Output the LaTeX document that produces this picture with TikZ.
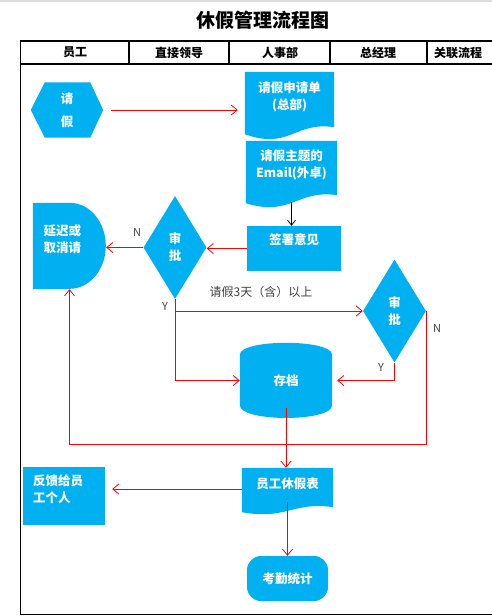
\documentclass[tikz,border=0pt]{standalone}
\usepackage{fontspec}
\setmainfont{Noto Sans CJK SC}
\usetikzlibrary{shapes.geometric,arrows.meta,backgrounds}
\definecolor{boxblue}{RGB}{0,176,240}
\definecolor{labelgray}{RGB}{64,64,64}
\tikzset{
  boxfill/.style={fill=boxblue},
  boxtext/.style={text=white, font=\fontsize{12.5}{17}\selectfont\bfseries, align=center, inner sep=0pt},
  redarrow/.style={draw=red, line width=0.8pt, -{Straight Barb[length=6pt,width=10pt]}},
  blackarrow/.style={draw=black, line width=0.8pt, -{Straight Barb[length=5pt,width=8pt]}},
  cellline/.style={line width=1.3pt},
  yn/.style={text=labelgray, font=\fontsize{11}{13}\selectfont}
}
% document shape: top box of the node, wavy bottom below it
\newcommand{\docwave}[4]{\fill[boxfill] (#1.north west) -- (#1.north east) -- ([yshift=-#2]#1.south east) .. controls +(-40,-6) and +(45,#4) .. ([yshift=-#3]#1.south west) -- cycle;}
\begin{document}
\begin{tikzpicture}[x=1pt,y=-1pt]
\useasboundingbox (0,0) rectangle (492,616);
\draw[gray!25, line width=1.5pt] (0,0.75) -- (492,0.75);
\node[font=\fontsize{19}{22}\selectfont\bfseries] (title) at (263,20) {休假管理流程图};
% table
\draw[cellline] (20.3,614.5) -- (20.3,41) -- (492,41);
\draw[cellline] (20.3,64) -- (492,64);
\draw[cellline] (20.3,614.5) -- (492,614.5);
\foreach \x in {129,229,330,427}
  \draw[cellline] (\x,41) -- (\x,64);
\foreach \x/\t [count=\i] in {75/员工,179/直接领导,280/人事部,378/总经理,458/关联流程}
  \node[font=\fontsize{12}{14}\selectfont\bfseries] (hd\i) at (\x,52.5) {\t};
% shapes
\node[boxtext, minimum width=72pt, minimum height=55pt] (qingjia) at (67,110) {请\\[6pt]假};
\node[boxtext, minimum width=89pt, minimum height=50pt] (shenqing) at (289.5,97) {请假申请单\\(总部)};
\node[boxtext, minimum width=91pt, minimum height=48pt] (email) at (291.5,165) {请假主题的\\Email(外卓)};
\node[boxtext, boxfill, minimum width=94pt, minimum height=45pt, text depth=18pt] (qianshu) at (294,248.5) {签署意见};
\node[boxtext, boxfill, diamond, minimum width=63pt, minimum height=103pt] (shenpi1) at (175,247.5) {审\\批};
\node[boxtext, minimum width=73pt, minimum height=86pt, text width=52pt, align=left, text depth=31.5pt] (yanchi) at (69.5,246) {延迟或\\取消请};
\node[boxtext, boxfill, diamond, minimum width=63pt, minimum height=103pt] (shenpi2) at (394.5,311) {审\\批};
\node[boxtext, minimum width=92pt, minimum height=75pt] (cundang) at (286,380.5) {存档};
\node[boxtext, minimum width=91pt, minimum height=32pt] (xiujia) at (287.5,484) {员工休假表};
\node[boxtext, boxfill, minimum width=82pt, minimum height=58pt, text width=62pt, align=left, text depth=31.5pt] (fankui) at (64,496) {反馈给员\\工个人};
\node[boxtext, boxfill, rounded corners=14pt, minimum width=81pt, minimum height=45pt] (kaoqin) at (287.5,578.5) {考勤统计};
\begin{scope}[on background layer]
\fill[boxfill] (qingjia.west) -- ([xshift=14pt]qingjia.north west) -- ([xshift=-13pt]qingjia.north east) -- (qingjia.east) -- ([xshift=-13pt]qingjia.south east) -- ([xshift=14pt]qingjia.south west) -- cycle;
\docwave{shenqing}{5pt}{12pt}{16}
\docwave{email}{6pt}{14pt}{14}
\docwave{xiujia}{7pt}{12pt}{8}
\fill[boxfill] (yanchi.north west) -- ([xshift=37pt]yanchi.north west) arc[start angle=90, end angle=-90, x radius=36pt, y radius=43pt] -- (yanchi.south west) -- cycle;
\fill[boxfill] ([yshift=-12pt]cundang.north west) .. controls ([yshift=4pt]cundang.north west) and ([yshift=4pt]cundang.north east) .. ([yshift=-12pt]cundang.north east) -- ([yshift=13pt]cundang.south east) .. controls ([yshift=-4pt]cundang.south east) and ([yshift=-4pt]cundang.south west) .. ([yshift=13pt]cundang.south west) -- cycle;
\end{scope}
% connectors
\draw[redarrow, shorten <=8pt, shorten >=7pt] (qingjia.east) -- (qingjia.east -| shenqing.west);
\draw[blackarrow] ([yshift=-13pt]email.south) -- (email.south |- qianshu.north);
\draw[redarrow] (qianshu.west) -- (qianshu.west -| shenpi1.east);
\draw[redarrow] (shenpi1.west) -- (shenpi1.west -| yanchi.east);
\draw[redarrow] (shenpi1.south) -- (shenpi1.south |- cundang.west) -- (cundang.west);
\draw[redarrow] (shenpi1.south |- shenpi2.west) -- (shenpi2.west);
\draw[redarrow, shorten >=5pt] (shenpi2.south) -- (shenpi2.south |- cundang.east) -- (cundang.east);
\coordinate (huilu) at (426,444);
\draw[redarrow] (shenpi2.east) -- (shenpi2.east |- huilu) -- (yanchi.south |- huilu) -- (yanchi.south);
\draw[redarrow] ([yshift=10pt]cundang.south) -- (cundang.south |- xiujia.north);
\draw[redarrow, shorten >=7pt] ([yshift=-5pt]xiujia.west) -- ([yshift=-5pt]xiujia.west -| fankui.east);
\draw[redarrow] ([yshift=-2pt]xiujia.south) -- (xiujia.south |- kaoqin.north);
% labels
\node[yn] (n1) at (137,232) {N};
\node[yn] (y1) at (165,306) {Y};
\node[yn] (y2) at (381,367) {Y};
\node[yn] (n2) at (437,328) {N};
\node[yn, font=\fontsize{12}{14}\selectfont] (tian) at (261,292) {请假3天（含）以上};
\end{tikzpicture}
\end{document}
